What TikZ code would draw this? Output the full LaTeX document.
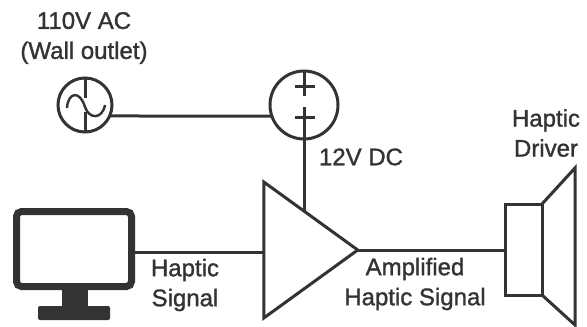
\documentclass[tikz,border=0pt]{standalone}
\usepackage{xcolor}
\usepackage{fontspec}
\setmainfont[FakeBold=1.2]{Liberation Sans}
\usetikzlibrary{shapes.geometric}
\definecolor{inkgrey}{HTML}{333333}
\tikzset{
  wire/.style={draw=inkgrey, line width=3pt},
  part/.style={draw=inkgrey, line width=3pt, inner sep=0pt, outer sep=0pt},
  lbl/.style={text=inkgrey, font=\fontsize{24}{30}\selectfont, align=center, inner sep=0pt}
}
\begin{document}
\begin{tikzpicture}[x=1pt, y=-1pt]
    \useasboundingbox[fill=white] (0,0) rectangle (587,327);

    \node[lbl] (aclabel) at (84,38) {110V AC\\(Wall outlet)};
    \node[part, circle, minimum size=54pt] (acsource) at (85,105) {};
    \node[part, circle, minimum size=68pt] (rectifier) at (304,105) {};
    \node[part, isosceles triangle, isosceles triangle apex angle=71.8, minimum height=94pt] (amp) at (298.5,250) {};
    \node[draw=inkgrey, line width=7pt, rounded corners=5pt, minimum width=115pt, minimum height=75pt, inner sep=0pt, outer sep=3.5pt] (monitor) at (74,249) {};
    \node[part, minimum width=37pt, minimum height=91pt] (speaker) at (523.5,249.5) {};

    \draw[wire] (acsource.-24) -- (rectifier.199);
    \draw[wire] (rectifier.south) -- (304,212);
    \draw[wire] (monitor.east |- 0,252) -- (amp.lower side |- 0,252);
    \draw[wire] (amp.apex) -- (speaker.west |- amp.apex);

    \draw[wire] (acsource.north) -- (85,98);
    \draw[wire] (85,112) -- (acsource.south);
    \draw[wire, line width=2.4pt] (67,108) .. controls (68,92) and (80,90) .. (85,107) .. controls (89,119) and (102,120) .. (105,105);

    \draw[wire] (rectifier.north) -- (304,96);
    \draw[wire] (304,107) -- (rectifier.south);
    \draw[wire] (295,86) -- (315,86);
    \draw[wire] (295,117) -- (315,117);

    \fill[inkgrey] (62,290) rectangle (88,308);
    \fill[inkgrey, rounded corners=2pt] (38,306) rectangle (110,320);

    \draw[part, line join=miter] (speaker.north east) -- (575,168) -- (575,325) -- (speaker.south east);

    \node[lbl] (acsignal) at (185,285) {Haptic\\Signal};
    \node[lbl] (ampsignal) at (415,284) {Amplified\\Haptic Signal};
    \node[lbl] (dclabel) at (361,157) {12V DC};
    \node[lbl] (driverlabel) at (546,133) {Haptic\\Driver};
\end{tikzpicture}
\end{document}
